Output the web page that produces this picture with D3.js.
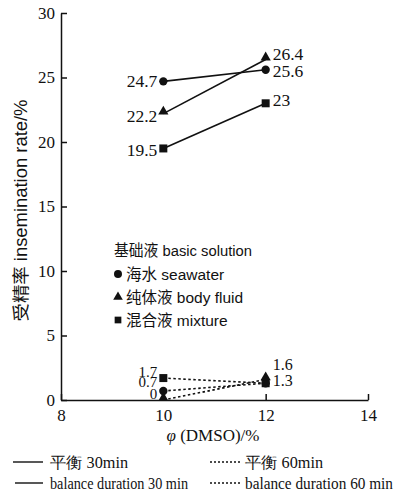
<!DOCTYPE html>
<html><head><meta charset="utf-8">
<script src="https://cdn.jsdelivr.net/npm/d3@7"></script>
<style>
body{margin:0;background:#fff;}
svg{display:block;}
text{fill:#111;}
.serif{font-family:"Liberation Serif","Times New Roman","DejaVu Serif",serif;}
.sans{font-family:"Liberation Sans",Arial,"Noto Sans CJK SC",sans-serif;}
</style></head>
<body>
<svg id="chart" width="402" height="499"></svg>
<script>
// ---- data ----
const xValues = [10, 12];
const seawater30 = [24.7, 25.6];
const bodyFluid30 = [22.2, 26.4];
const mixture30 = [19.5, 23];
const seawater60 = [0.7, 1.3];
const bodyFluid60 = [0, 1.6];
const mixture60 = [1.7, 1.3];
const xTicks = [8, 10, 12, 14];
const yTicks = [0, 5, 10, 15, 20, 25, 30];
const legendItems = ["海水 seawater", "纯体液 body fluid", "混合液 mixture"];

const svg = d3.select("#chart");
const x = d3.scaleLinear().domain([8, 14]).range([61, 368]);
const y = d3.scaleLinear().domain([0, 30]).range([400, 13]);

// axes
const yAxis = svg.append("g").attr("transform", `translate(${x(8)},0)`)
  .call(d3.axisLeft(y).tickValues(yTicks).tickFormat(d3.format("d"))
    .tickSize(-6).tickSizeOuter(0).tickPadding(6));
yAxis.attr("font-family", null).attr("font-size", null);
yAxis.selectAll("text").attr("class", "serif").style("font-size", "17px").attr("fill", "#111");
yAxis.selectAll("line,path").attr("stroke", "#111").attr("stroke-width", 1.5);

const xAxis = svg.append("g").attr("transform", `translate(0,${y(0)})`)
  .call(d3.axisBottom(x).tickValues(xTicks).tickFormat(d3.format("d"))
    .tickSize(-6).tickSizeOuter(0).tickPadding(9));
xAxis.attr("font-family", null).attr("font-size", null);
xAxis.selectAll("text").attr("class", "serif").style("font-size", "17px").attr("fill", "#111");
xAxis.selectAll("line,path").attr("stroke", "#111").attr("stroke-width", 1.5);

// axis titles
svg.append("text").attr("transform", `translate(27,210.5) rotate(-90)`)
  .attr("text-anchor", "middle").attr("class", "sans").style("font-size", "17.5px")
  .attr("textLength", 222).attr("lengthAdjust", "spacingAndGlyphs")
  .text("受精率 insemination rate/%");
svg.append("text").attr("x", 213).attr("y", 441).attr("text-anchor", "middle")
  .attr("class", "serif").style("font-size", "17px")
  .html('<tspan font-style="italic">φ</tspan> (DMSO)/%');

// lines and markers
const lineGen = d3.line().x((d, i) => x(xValues[i])).y(d => y(d));
const groups = [
  {vals: seawater30, sym: d3.symbolCircle, size: 55, dash: null},
  {vals: bodyFluid30, sym: d3.symbolTriangle, size: 45, dash: null},
  {vals: mixture30, sym: d3.symbolSquare, size: 64, dash: null},
  {vals: mixture60, sym: d3.symbolSquare, size: 64, dash: "2.5,2.5"},
  {vals: seawater60, sym: d3.symbolCircle, size: 55, dash: "2.5,2.5"},
  {vals: bodyFluid60, sym: d3.symbolTriangle, size: 45, dash: "2.5,2.5"}
];
groups.forEach(g => {
  svg.append("path").datum(g.vals).attr("d", lineGen)
    .attr("fill", "none").attr("stroke", "#111").attr("stroke-width", 1.6)
    .attr("stroke-dasharray", g.dash);
});
groups.forEach(g => {
  svg.selectAll(null).data(g.vals).enter().append("path")
    .attr("d", d3.symbol().type(g.sym).size(g.size))
    .attr("transform", (d, i) => `translate(${x(xValues[i])},${y(d) - (g.sym === d3.symbolTriangle ? 2 : 0)})`)
    .attr("fill", "#111");
});

// value labels
function label(v, xi, side, dy, fs) {
  svg.append("text").attr("x", x(xValues[xi]) + (side < 0 ? -6 : 7))
    .attr("y", y(v) + dy).attr("text-anchor", side < 0 ? "end" : "start")
    .attr("dominant-baseline", "central")
    .attr("class", "serif").style("font-size", (fs || 17.5) + "px").text(v);
}
label(seawater30[0], 0, -1, 0);
label(bodyFluid30[0], 0, -1, 2);
label(mixture30[0], 0, -1, 2);
label(bodyFluid30[1], 1, 1, -5);
label(seawater30[1], 1, 1, 1.5);
label(mixture30[1], 1, 1, -3);
label(mixture60[0], 0, -1, -6, 15);
label(seawater60[0], 0, -1, -8.5, 15);
label(bodyFluid60[0], 0, -1, -6, 15);
label(bodyFluid60[1], 1, 1, -15, 16);
label(seawater60[1], 1, 1, -3, 16);

// symbol legend
svg.append("text").attr("x", 114).attr("y", 250).attr("dominant-baseline", "central")
  .attr("class", "sans").style("font-size", "15.5px")
  .attr("textLength", 138).attr("lengthAdjust", "spacingAndGlyphs")
  .text("基础液 basic solution");
const legSyms = [d3.symbolCircle, d3.symbolTriangle, d3.symbolSquare];
const legSizes = [50, 40, 45];
legendItems.forEach((t, i) => {
  const ly = 274 + i * 23;
  svg.append("path").attr("d", d3.symbol().type(legSyms[i]).size(legSizes[i]))
    .attr("transform", `translate(118,${ly})`).attr("fill", "#111");
  svg.append("text").attr("x", 126).attr("y", ly).attr("dominant-baseline", "central")
    .attr("class", "sans").style("font-size", "15.5px").text(t);
});

// line-style legend
const lineLeg = [
  {x1: 13, x2: 43, y: 462, dash: null, text: "平衡 30min", tx: 50, len: 78},
  {x1: 15, x2: 43, y: 483, dash: null, text: "balance duration 30 min", tx: 50, len: 138},
  {x1: 210, x2: 240, y: 462, dash: "2,2", text: "平衡 60min", tx: 245, len: 78},
  {x1: 210, x2: 240, y: 483, dash: "2,2", text: "balance duration 60 min", tx: 245, len: 148}
];
lineLeg.forEach(l => {
  svg.append("line").attr("x1", l.x1).attr("x2", l.x2).attr("y1", l.y).attr("y2", l.y)
    .attr("stroke", "#111").attr("stroke-width", 1.4).attr("stroke-dasharray", l.dash);
  svg.append("text").attr("x", l.tx).attr("y", l.y).attr("dominant-baseline", "central")
    .attr("class", "serif").style("font-size", "16px")
    .attr("textLength", l.len).attr("lengthAdjust", "spacingAndGlyphs")
    .text(l.text);
});
</script>
</body></html>
